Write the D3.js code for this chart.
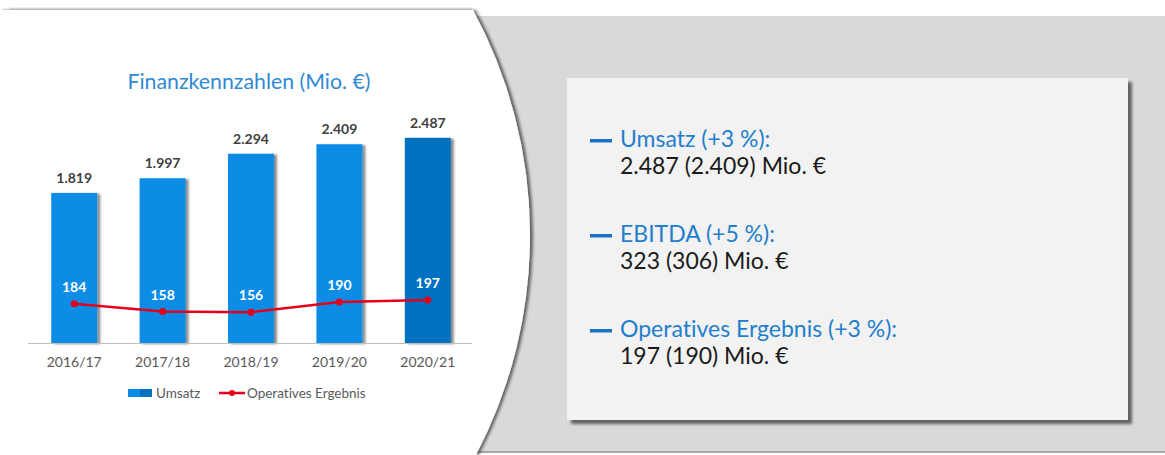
<!DOCTYPE html>
<html>
<head>
<meta charset="utf-8">
<script src="https://cdn.jsdelivr.net/npm/d3@7"></script>
<style>
  body { margin: 0; background: #fff; }
  svg { display: block; font-family: Lato, "Open Sans", sans-serif; font-variant-ligatures: none; }
</style>
</head>
<body>
<script>
// Finanzkennzahlen data
const years = ["2016/17", "2017/18", "2018/19", "2019/20", "2020/21"];
const umsatz = [1819, 1997, 2294, 2409, 2487];
const opErgebnis = [184, 158, 156, 190, 197];

// key figures on the right
const kpiNames = ["Umsatz", "EBITDA", "Operatives Ergebnis"];
const kpiChange = [3, 5, 3];
const kpiCurrent = [2487, 323, 197];
const kpiPrevious = [2409, 306, 190];

const w = 1165,
  h = 455;

const de = d3.formatLocale({
  decimal: ",",
  thousands: ".",
  grouping: [3],
  currency: ["", " €"]
});
const fmt = de.format(",d");

const svg = d3
  .select("body")
  .append("svg")
  .attr("width", w)
  .attr("height", h);

const defs = svg.append("defs");

function shadow(id, dx, dy, sd, op) {
  defs
    .append("filter")
    .attr("id", id)
    .attr("x", "-20%")
    .attr("y", "-20%")
    .attr("width", "140%")
    .attr("height", "140%")
    .append("feDropShadow")
    .attr("dx", dx)
    .attr("dy", dy)
    .attr("stdDeviation", sd)
    .attr("flood-color", "#000")
    .attr("flood-opacity", op);
}
shadow("barShadow", 3, 1, 1.2, 0.45);
shadow("boxShadow", 4, 4, 1.4, 0.55);
shadow("curveShadow", 3, 0, 1.8, 0.55);

// background panels
svg.append("rect").attr("width", w).attr("height", h).attr("fill", "#fff");

svg
  .append("rect")
  .attr("x", 430)
  .attr("y", 16)
  .attr("width", w - 430)
  .attr("height", 436)
  .attr("fill", "#d9d9d9");

svg
  .append("line")
  .attr("x1", 430)
  .attr("x2", w)
  .attr("y1", 452)
  .attr("y2", 452)
  .attr("stroke", "#a6a6a6")
  .attr("stroke-width", 2);

svg
  .append("line")
  .attr("x1", 10)
  .attr("x2", 472)
  .attr("y1", 9)
  .attr("y2", 9)
  .attr("stroke", "#e8e8e8")
  .attr("stroke-width", 3);

// white curved shape on the left
svg
  .append("path")
  .attr("d", "M0,10 L473,10 A474,474 0 0 1 476,455 L0,455 Z")
  .attr("fill", "#fff")
  .attr("filter", "url(#curveShadow)");

// ---- chart ----
const x = d3
  .scaleBand()
  .domain(years)
  .range([30, 472])
  .paddingInner(0.48)
  .paddingOuter(0.24);

const y = d3.scaleLinear().domain([0, 4000]).range([343, 13]);
const y2 = d3.scaleLinear().domain([0, 1000]).range([359, 59]);

svg
  .append("text")
  .attr("x", 249)
  .attr("y", 89)
  .attr("text-anchor", "middle")
  .attr("fill", "#2f8ad3")
  .attr("font-size", 21.3)
  .text("Finanzkennzahlen (Mio. €)");

const chart = svg.append("g");

chart
  .selectAll("rect.bar")
  .data(umsatz)
  .enter()
  .append("rect")
  .attr("class", "bar")
  .attr("x", (d, i) => x(years[i]))
  .attr("y", (d) => y(d))
  .attr("width", x.bandwidth())
  .attr("height", (d) => y(0) - y(d))
  .attr("fill", (d, i) => (i === umsatz.length - 1 ? "#0070c0" : "#0a8ce6"))
  .attr("filter", "url(#barShadow)");

chart
  .selectAll("text.bar-label")
  .data(umsatz)
  .enter()
  .append("text")
  .attr("class", "bar-label")
  .attr("x", (d, i) => x(years[i]) + x.bandwidth() / 2)
  .attr("y", (d) => y(d) - 10)
  .attr("text-anchor", "middle")
  .attr("font-size", 14)
  .attr("font-weight", "bold")
  .attr("fill", "#404040")
  .text((d) => fmt(d));

const xAxis = chart
  .append("g")
  .attr("transform", "translate(0," + y(0) + ")")
  .call(d3.axisBottom(x).tickSize(0).tickPadding(14));

xAxis.select(".domain").attr("stroke", "#bfbfbf").attr("d", "M28,0.5H472");
xAxis
  .selectAll("text")
  .attr("font-family", "Lato, 'Open Sans', sans-serif")
  .attr("font-size", 14)
  .attr("fill", "#595959");

const line = d3
  .line()
  .x((d, i) => x(years[i]) + x.bandwidth() / 2)
  .y((d) => y2(d));

chart
  .append("path")
  .datum(opErgebnis)
  .attr("d", line)
  .attr("fill", "none")
  .attr("stroke", "#e3001b")
  .attr("stroke-width", 2.5);

chart
  .selectAll("circle.pt")
  .data(opErgebnis)
  .enter()
  .append("circle")
  .attr("class", "pt")
  .attr("cx", (d, i) => x(years[i]) + x.bandwidth() / 2)
  .attr("cy", (d) => y2(d))
  .attr("r", 3.5)
  .attr("fill", "#e3001b");

chart
  .selectAll("text.pt-label")
  .data(opErgebnis)
  .enter()
  .append("text")
  .attr("class", "pt-label")
  .attr("x", (d, i) => x(years[i]) + x.bandwidth() / 2)
  .attr("y", (d) => y2(d) - 12)
  .attr("text-anchor", "middle")
  .attr("font-size", 14)
  .attr("font-weight", "bold")
  .attr("fill", "#fff")
  .text((d) => d);

// legend
const legend = svg.append("g").attr("transform", "translate(128,393)");
legend
  .append("rect")
  .attr("x", 0)
  .attr("y", -4)
  .attr("width", 12)
  .attr("height", 8)
  .attr("fill", "#0a8ce6");
legend
  .append("rect")
  .attr("x", 12)
  .attr("y", -4)
  .attr("width", 12)
  .attr("height", 8)
  .attr("fill", "#0070c0");
legend
  .append("text")
  .attr("x", 28)
  .attr("y", 5)
  .attr("font-size", 13.5)
  .attr("fill", "#595959")
  .text("Umsatz");
legend
  .append("line")
  .attr("x1", 91)
  .attr("x2", 117)
  .attr("stroke", "#e3001b")
  .attr("stroke-width", 2.5);
legend
  .append("circle")
  .attr("cx", 104)
  .attr("r", 3)
  .attr("fill", "#e3001b");
legend
  .append("text")
  .attr("x", 119)
  .attr("y", 5)
  .attr("font-size", 13.5)
  .attr("fill", "#595959")
  .text("Operatives Ergebnis");

// ---- key figures box ----
svg
  .append("rect")
  .attr("x", 567)
  .attr("y", 78)
  .attr("width", 561)
  .attr("height", 342)
  .attr("fill", "#f2f2f2")
  .attr("filter", "url(#boxShadow)");

const kpi = svg
  .selectAll("g.kpi")
  .data(kpiNames)
  .enter()
  .append("g")
  .attr("class", "kpi")
  .attr("transform", (d, i) => "translate(590," + (147 + i * 95) + ")");

kpi
  .append("rect")
  .attr("x", 0)
  .attr("y", -8)
  .attr("width", 22)
  .attr("height", 3.5)
  .attr("fill", "#1a72c2");

kpi
  .append("text")
  .attr("x", 30)
  .attr("font-size", 23)
  .attr("fill", "#1f7fcc")
  .text((d, i) => d + " (+" + kpiChange[i] + " %):");

kpi
  .append("text")
  .attr("x", 30)
  .attr("y", 27)
  .attr("font-size", 23)
  .attr("fill", "#1a1a1a")
  .text(
    (d, i) =>
      fmt(kpiCurrent[i]) + " (" + fmt(kpiPrevious[i]) + ") Mio. €"
  );
</script>
</body>
</html>
